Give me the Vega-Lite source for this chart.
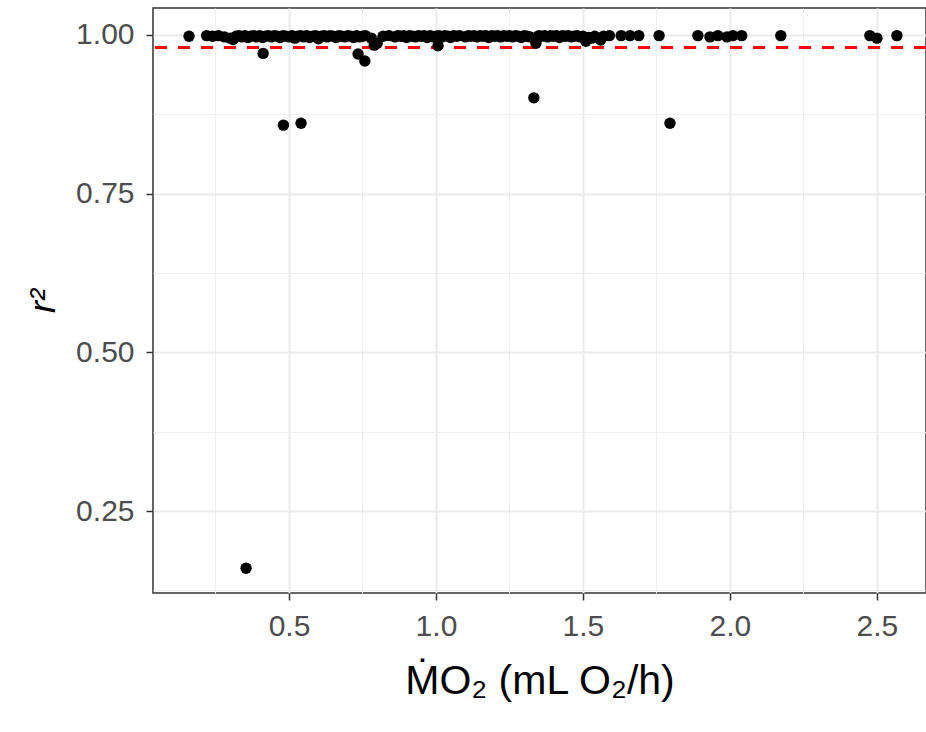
{
  "$schema": "https://vega.github.io/schema/vega-lite/v6.json",
  "autosize": "none",
  "width": 773,
  "height": 585,
  "padding": {"left": 153, "top": 8, "right": 0, "bottom": 139},
  "background": "white",
  "config": {
    "font": "Liberation Sans",
    "view": {"stroke": "#333333", "strokeWidth": 1.5},
    "axis": {
      "gridColor": "#EBEBEB",
      "gridWidth": 2,
      "domain": false,
      "tickColor": "#333333",
      "tickWidth": 1.5,
      "tickSize": 7,
      "labelColor": "#4D4D4D",
      "labelFontSize": 30,
      "labelFont": "Liberation Sans",
      "titleColor": "#000000",
      "titleFont": "Liberation Sans",
      "titleFontWeight": "normal"
    }
  },
  "data": {
    "values": [
      {"mo2": 0.16, "r2": 0.998},
      {"mo2": 0.22, "r2": 0.999},
      {"mo2": 0.24, "r2": 0.998},
      {"mo2": 0.26, "r2": 0.999},
      {"mo2": 0.28, "r2": 0.997},
      {"mo2": 0.30, "r2": 0.995},
      {"mo2": 0.31, "r2": 0.993},
      {"mo2": 0.32, "r2": 0.998},
      {"mo2": 0.33, "r2": 0.999},
      {"mo2": 0.34, "r2": 0.997},
      {"mo2": 0.35, "r2": 0.999},
      {"mo2": 0.354, "r2": 0.160},
      {"mo2": 0.36, "r2": 0.996},
      {"mo2": 0.37, "r2": 0.998},
      {"mo2": 0.38, "r2": 0.999},
      {"mo2": 0.39, "r2": 0.997},
      {"mo2": 0.40, "r2": 0.999},
      {"mo2": 0.41, "r2": 0.996},
      {"mo2": 0.412, "r2": 0.971},
      {"mo2": 0.42, "r2": 0.998},
      {"mo2": 0.43, "r2": 0.999},
      {"mo2": 0.44, "r2": 0.997},
      {"mo2": 0.45, "r2": 0.999},
      {"mo2": 0.46, "r2": 0.998},
      {"mo2": 0.47, "r2": 0.996},
      {"mo2": 0.48, "r2": 0.999},
      {"mo2": 0.481, "r2": 0.858},
      {"mo2": 0.49, "r2": 0.998},
      {"mo2": 0.50, "r2": 0.997},
      {"mo2": 0.51, "r2": 0.999},
      {"mo2": 0.52, "r2": 0.995},
      {"mo2": 0.53, "r2": 0.998},
      {"mo2": 0.54, "r2": 0.999},
      {"mo2": 0.541, "r2": 0.861},
      {"mo2": 0.55, "r2": 0.997},
      {"mo2": 0.56, "r2": 0.999},
      {"mo2": 0.57, "r2": 0.996},
      {"mo2": 0.58, "r2": 0.998},
      {"mo2": 0.59, "r2": 0.999},
      {"mo2": 0.60, "r2": 0.994},
      {"mo2": 0.61, "r2": 0.998},
      {"mo2": 0.62, "r2": 0.999},
      {"mo2": 0.63, "r2": 0.997},
      {"mo2": 0.64, "r2": 0.999},
      {"mo2": 0.65, "r2": 0.998},
      {"mo2": 0.66, "r2": 0.996},
      {"mo2": 0.67, "r2": 0.999},
      {"mo2": 0.68, "r2": 0.998},
      {"mo2": 0.69, "r2": 0.997},
      {"mo2": 0.70, "r2": 0.999},
      {"mo2": 0.71, "r2": 0.998},
      {"mo2": 0.72, "r2": 0.996},
      {"mo2": 0.73, "r2": 0.999},
      {"mo2": 0.735, "r2": 0.970},
      {"mo2": 0.74, "r2": 0.997},
      {"mo2": 0.75, "r2": 0.998},
      {"mo2": 0.758, "r2": 0.959},
      {"mo2": 0.76, "r2": 0.999},
      {"mo2": 0.78, "r2": 0.995},
      {"mo2": 0.79, "r2": 0.984},
      {"mo2": 0.80, "r2": 0.987},
      {"mo2": 0.82, "r2": 0.998},
      {"mo2": 0.84, "r2": 0.999},
      {"mo2": 0.86, "r2": 0.997},
      {"mo2": 0.87, "r2": 0.999},
      {"mo2": 0.88, "r2": 0.998},
      {"mo2": 0.89, "r2": 0.999},
      {"mo2": 0.90, "r2": 0.996},
      {"mo2": 0.91, "r2": 0.999},
      {"mo2": 0.92, "r2": 0.998},
      {"mo2": 0.93, "r2": 0.997},
      {"mo2": 0.94, "r2": 0.999},
      {"mo2": 0.95, "r2": 0.998},
      {"mo2": 0.96, "r2": 0.999},
      {"mo2": 0.97, "r2": 0.996},
      {"mo2": 0.98, "r2": 0.999},
      {"mo2": 0.99, "r2": 0.997},
      {"mo2": 1.00, "r2": 0.998},
      {"mo2": 1.007, "r2": 0.983},
      {"mo2": 1.01, "r2": 0.999},
      {"mo2": 1.02, "r2": 0.997},
      {"mo2": 1.03, "r2": 0.999},
      {"mo2": 1.04, "r2": 0.998},
      {"mo2": 1.05, "r2": 0.996},
      {"mo2": 1.06, "r2": 0.999},
      {"mo2": 1.07, "r2": 0.998},
      {"mo2": 1.08, "r2": 0.999},
      {"mo2": 1.10, "r2": 0.997},
      {"mo2": 1.11, "r2": 0.999},
      {"mo2": 1.12, "r2": 0.998},
      {"mo2": 1.13, "r2": 0.999},
      {"mo2": 1.14, "r2": 0.997},
      {"mo2": 1.15, "r2": 0.999},
      {"mo2": 1.16, "r2": 0.998},
      {"mo2": 1.17, "r2": 0.999},
      {"mo2": 1.18, "r2": 0.996},
      {"mo2": 1.19, "r2": 0.999},
      {"mo2": 1.20, "r2": 0.998},
      {"mo2": 1.21, "r2": 0.999},
      {"mo2": 1.22, "r2": 0.997},
      {"mo2": 1.23, "r2": 0.999},
      {"mo2": 1.24, "r2": 0.998},
      {"mo2": 1.25, "r2": 0.999},
      {"mo2": 1.26, "r2": 0.997},
      {"mo2": 1.27, "r2": 0.999},
      {"mo2": 1.28, "r2": 0.998},
      {"mo2": 1.29, "r2": 0.996},
      {"mo2": 1.30, "r2": 0.999},
      {"mo2": 1.31, "r2": 0.998},
      {"mo2": 1.32, "r2": 0.997},
      {"mo2": 1.333, "r2": 0.901},
      {"mo2": 1.34, "r2": 0.987},
      {"mo2": 1.35, "r2": 0.999},
      {"mo2": 1.36, "r2": 0.998},
      {"mo2": 1.37, "r2": 0.999},
      {"mo2": 1.38, "r2": 0.997},
      {"mo2": 1.39, "r2": 0.999},
      {"mo2": 1.40, "r2": 0.998},
      {"mo2": 1.41, "r2": 0.999},
      {"mo2": 1.42, "r2": 0.996},
      {"mo2": 1.43, "r2": 0.999},
      {"mo2": 1.44, "r2": 0.998},
      {"mo2": 1.45, "r2": 0.999},
      {"mo2": 1.46, "r2": 0.997},
      {"mo2": 1.47, "r2": 0.998},
      {"mo2": 1.48, "r2": 0.999},
      {"mo2": 1.49, "r2": 0.997},
      {"mo2": 1.50, "r2": 0.998},
      {"mo2": 1.51, "r2": 0.990},
      {"mo2": 1.52, "r2": 0.996},
      {"mo2": 1.53, "r2": 0.995},
      {"mo2": 1.54, "r2": 0.998},
      {"mo2": 1.56, "r2": 0.992},
      {"mo2": 1.57, "r2": 0.998},
      {"mo2": 1.59, "r2": 0.999},
      {"mo2": 1.63, "r2": 0.999},
      {"mo2": 1.66, "r2": 0.999},
      {"mo2": 1.69, "r2": 0.999},
      {"mo2": 1.759, "r2": 0.999},
      {"mo2": 1.796, "r2": 0.861},
      {"mo2": 1.891, "r2": 0.999},
      {"mo2": 1.932, "r2": 0.997},
      {"mo2": 1.959, "r2": 0.999},
      {"mo2": 1.99, "r2": 0.997},
      {"mo2": 2.01, "r2": 0.999},
      {"mo2": 2.04, "r2": 0.999},
      {"mo2": 2.173, "r2": 0.999},
      {"mo2": 2.476, "r2": 0.999},
      {"mo2": 2.50, "r2": 0.995},
      {"mo2": 2.568, "r2": 0.999}
    ]
  },
  "resolve": {"axis": {"x": "independent", "y": "independent"}},
  "layer": [
    {
      "mark": {"type": "point", "opacity": 0},
      "encoding": {
        "x": {"field": "mo2", "type": "quantitative",
              "scale": {"domain": [0.0374, 2.667], "nice": false, "zero": false},
              "axis": {"orient": "bottom", "values": [0.25, 0.75, 1.25, 1.75, 2.25], "grid": true, "gridWidth": 1, "gridColor": "#EFEFEF", "labels": false, "ticks": false, "title": null}},
        "y": {"field": "r2", "type": "quantitative",
              "scale": {"domain": [0.121, 1.0425], "nice": false, "zero": false},
              "axis": {"orient": "left", "values": [0.125, 0.375, 0.625, 0.875], "grid": true, "gridWidth": 1, "gridColor": "#EFEFEF", "labels": false, "ticks": false, "title": null}}
      }
    },
    {
      "mark": {"type": "point", "opacity": 0},
      "encoding": {
        "x": {"field": "mo2", "type": "quantitative",
              "scale": {"domain": [0.0374, 2.667], "nice": false, "zero": false},
              "axis": {"orient": "bottom", "values": [0.5, 1.0, 1.5, 2.0, 2.5], "format": ".1f", "grid": true, "labelPadding": 11,
                       "title": "ṀO₂ (mL O₂/h)", "titleFontSize": 41, "titlePadding": 20}},
        "y": {"field": "r2", "type": "quantitative",
              "scale": {"domain": [0.121, 1.0425], "nice": false, "zero": false},
              "axis": {"orient": "left", "values": [0.25, 0.5, 0.75, 1.0], "format": ".2f", "grid": true, "labelPadding": 12,
                       "title": "r²", "titleFontSize": 36, "titleFontStyle": "italic", "titlePadding": 13}}
      }
    },
    {
      "mark": {"type": "rule", "color": "#FF0000", "strokeWidth": 2, "strokeDash": [12, 11]},
      "encoding": {"y": {"datum": 0.98, "axis": null}}
    },
    {
      "mark": {"type": "circle", "color": "#000000", "opacity": 1, "size": 130},
      "encoding": {
        "x": {"field": "mo2", "type": "quantitative", "axis": null},
        "y": {"field": "r2", "type": "quantitative", "axis": null}
      }
    }
  ]
}
